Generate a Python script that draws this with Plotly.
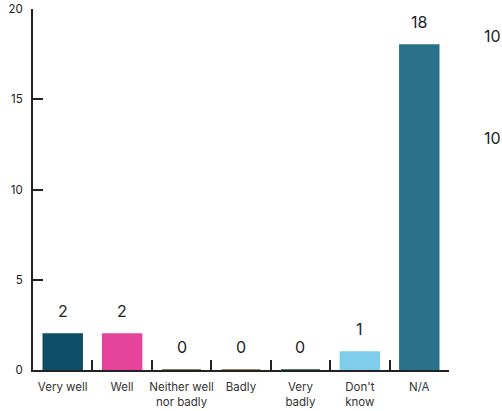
import plotly.graph_objects as go

categories = ["Very well", "Well", "Neither well<br>nor badly", "Badly", "Very<br>badly", "Don't<br>know", "N/A"]
counts = [2, 2, 0, 0, 0, 1, 18]
bar_colors = ["#0f4c68", "#e5449a", "#4d5a2c", "#7a5b25", "#1b4d48", "#7ecdea", "#287188"]
side_labels = ["10", "10"]

font_family = "Inter, Lato, sans-serif"

fig = go.Figure()
fig.add_trace(go.Bar(
    x=categories,
    y=counts,
    marker=dict(color=bar_colors, line=dict(color=bar_colors, width=1.5)),
    width=0.655,
    hoverinfo="skip",
))

# value labels above each bar
for cat, val in zip(categories, counts):
    fig.add_annotation(
        x=cat, y=val, text=str(val), showarrow=False,
        yanchor="middle", yshift=23,
        font=dict(family=font_family, size=16, color="#222222"),
    )

# labels at the right edge of the canvas
for lbl, yp in zip(side_labels, [0.925, 0.643]):
    fig.add_annotation(
        xref="paper", yref="paper", x=1.08, y=yp, text=lbl, showarrow=False,
        xanchor="left", yanchor="middle",
        font=dict(family=font_family, size=16, color="#222222"),
    )

fig.update_layout(
    width=502, height=411,
    margin=dict(l=33, r=52.5, t=9.3, b=40.7, autoexpand=False),
    paper_bgcolor="white", plot_bgcolor="white",
    showlegend=False,
    bargap=0.345,
    font=dict(family=font_family, size=11, color="#333333"),
)
fig.update_xaxes(
    type="category", tickangle=0, automargin=False,
    showline=True, linecolor="#222222", linewidth=2,
    ticks="inside", tickson="boundaries", ticklen=10, tickwidth=2, tickcolor="#222222",
    ticklabelstandoff=5,
    showgrid=False, zeroline=False,
    tickfont=dict(family=font_family, size=11.5, color="#333333"),
)
fig.update_yaxes(
    range=[0, 20], tickvals=[0, 5, 10, 15, 20], automargin=False,
    showline=True, linecolor="#222222", linewidth=2,
    ticks="inside", ticklen=10, tickwidth=2, tickcolor="#222222",
    ticklabelstandoff=6,
    showgrid=False, zeroline=False,
    tickfont=dict(family=font_family, size=11.5, color="#222222"),
)

fig.write_html("out.html")
